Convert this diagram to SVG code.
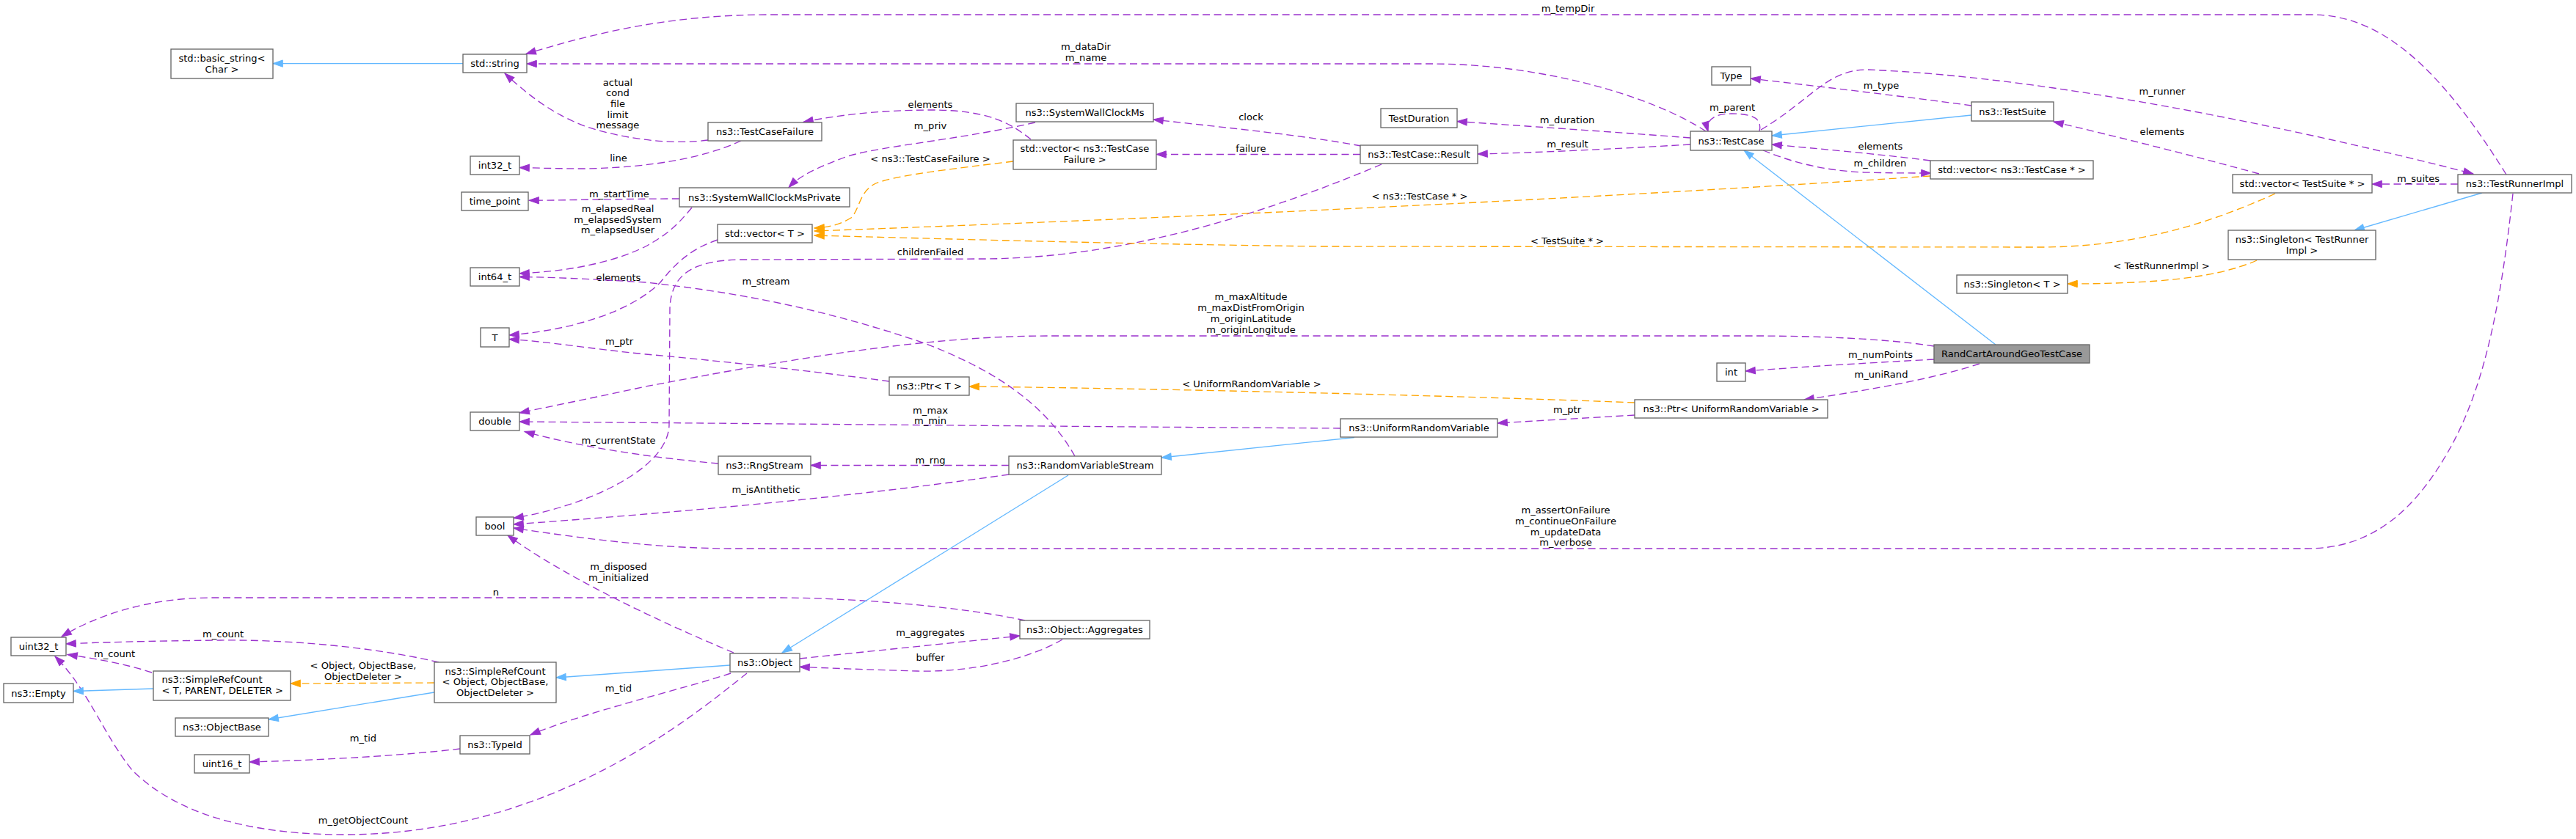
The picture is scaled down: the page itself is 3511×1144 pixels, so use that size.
<svg xmlns="http://www.w3.org/2000/svg" width="3511" height="1144" viewBox="0 0 3511 1144">
<style>
text{font-family:"DejaVu Sans","Liberation Sans",sans-serif;font-size:13.1px;fill:#000}
.nd rect{fill:#fff;stroke:#666;stroke-width:1.33}
.nd text{text-anchor:middle}
#n_randcart rect{fill:#999}
.u{fill:none;stroke:#9A32CD;stroke-width:1.33;stroke-dasharray:10,5.5;marker-end:url(#ap)}
.t{fill:none;stroke:#FFA500;stroke-width:1.33;stroke-dasharray:10,5.5;marker-end:url(#ao)}
.i{fill:none;stroke:#63B8FF;stroke-width:1.33;marker-end:url(#ab)}
.lb{text-anchor:middle}
</style>
<defs>
<marker id="ap" viewBox="0 0 14 10" refX="13.3" refY="4.65" markerWidth="14" markerHeight="10" markerUnits="userSpaceOnUse" orient="auto" overflow="visible"><path d="M0,0 L13.3,4.65 L0,9.3 Z" fill="#9A32CD" stroke="#9A32CD" stroke-width="1"/></marker>
<marker id="ao" viewBox="0 0 14 10" refX="13.3" refY="4.65" markerWidth="14" markerHeight="10" markerUnits="userSpaceOnUse" orient="auto" overflow="visible"><path d="M0,0 L13.3,4.65 L0,9.3 Z" fill="#FFA500" stroke="#FFA500" stroke-width="1"/></marker>
<marker id="ab" viewBox="0 0 14 10" refX="13.3" refY="4.65" markerWidth="14" markerHeight="10" markerUnits="userSpaceOnUse" orient="auto" overflow="visible"><path d="M0,0 L13.3,4.65 L0,9.3 Z" fill="#63B8FF" stroke="#63B8FF" stroke-width="1"/></marker>
</defs>
<rect width="3511" height="1144" fill="#fff"/>
<g id="edges">
<path class="u" d="M3416,238 C3330,100 3250,20 3151,20 L1050,20 C920,20 820,42 717,73.5"/>
<text class="lb" x="2137" y="16.2">m_tempDir</text>
<path class="u" d="M2325,179 C2250,130 2100,87 1950,87 L718,87"/>
<text class="lb" x="1480" y="68.3">m_dataDir</text><text class="lb" x="1480" y="83">m_name</text>
<path class="u" d="M965,191 C920,197 860,192 800,173 C750,155 715,125 688,100"/>
<text class="lb" x="842" y="116.5">actual</text><text class="lb" x="842" y="131.2">cond</text><text class="lb" x="842" y="145.9">file</text><text class="lb" x="842" y="160.6">limit</text><text class="lb" x="842" y="175.3">message</text>
<path class="u" d="M1010,192 C960,215 890,228 800,230 C760,230 730,229 708,228.5"/>
<text class="lb" x="843" y="219.7">line</text>
<path class="u" d="M926,271 C850,271 780,273 721,273.3"/>
<text class="lb" x="844" y="268.7">m_startTime</text>
<path class="u" d="M943,283 C925,305 910,320 878,337 C830,360 770,370 708,373"/>
<text class="lb" x="842" y="289">m_elapsedReal</text><text class="lb" x="842" y="303.7">m_elapsedSystem</text><text class="lb" x="842" y="318.4">m_elapsedUser</text>
<path class="u" d="M978,327 C940,340 920,360 900,385 C860,425 780,450 694,457"/>
<text class="lb" x="843" y="382.7">elements</text>
<path class="u" d="M1465,622 C1430,560 1370,510 1260,468 C1120,420 1000,398 880,385 C800,380 750,378 708,377.5"/>
<text class="lb" x="1044" y="388.3">m_stream</text>
<path class="u" d="M1212,520 C1100,505 960,490 880,483 C800,475 750,466 694,462.5"/>
<text class="lb" x="844" y="469.7">m_ptr</text>
<path class="u" d="M2636,472 C2560,460 2450,458 2390,458 L1430,458 C1250,458 1050,495 880,527 C820,540 770,550 708,563"/>
<text class="lb" x="1705" y="409.4">m_maxAltitude</text><text class="lb" x="1705" y="424.1">m_maxDistFromOrigin</text><text class="lb" x="1705" y="438.8">m_originLatitude</text><text class="lb" x="1705" y="453.5">m_originLongitude</text>
<path class="u" d="M1827,584 C1500,582 1100,578 708,575"/>
<text class="lb" x="1268" y="563.7">m_max</text><text class="lb" x="1268" y="578.4">m_min</text>
<path class="u" d="M979,632 C900,625 800,612 715,588.5"/>
<text class="lb" x="843" y="604.5">m_currentState</text>
<path class="u" d="M1375,647 C1200,672 1000,693 700,715"/>
<text class="lb" x="1044" y="671.7">m_isAntithetic</text>
<path class="u" d="M3425,264 C3410,400 3390,520 3340,610 C3290,700 3230,748 3145,748 L1000,748 C900,748 800,735 700,720"/>
<text class="lb" x="2134" y="700.2">m_assertOnFailure</text><text class="lb" x="2134" y="714.9">m_continueOnFailure</text><text class="lb" x="2134" y="729.6">m_updateData</text><text class="lb" x="2134" y="744.3">m_verbose</text>
<path class="u" d="M1000,890 C880,840 760,780 692,730"/>
<text class="lb" x="843" y="777.4">m_disposed</text><text class="lb" x="843" y="792.1">m_initialized</text>
<path class="u" d="M1397,846 C1300,825 1150,815 1060,815 L290,815 C200,815 130,840 84,868"/>
<text class="lb" x="676" y="811.5">n</text>
<path class="u" d="M598,903 C500,880 380,872 300,873 C200,874 130,876 90,878"/>
<text class="lb" x="304" y="869.3">m_count</text>
<path class="u" d="M207,917 C170,905 130,898 92,892.5"/>
<text class="lb" x="156" y="895.7">m_count</text>
<path class="u" d="M1018,918 C940,980 750,1138 470,1138 C300,1138 220,1090 180,1050 C140,1000 120,940 75,895"/>
<text class="lb" x="495" y="1123.3">m_getObjectCount</text>
<path class="u" d="M996,918 C930,940 800,970 723,1002"/>
<text class="lb" x="843" y="942.7">m_tid</text>
<path class="u" d="M627,1021 C550,1030 450,1036 340,1039"/>
<text class="lb" x="495" y="1010.7">m_tid</text>
<path class="u" d="M1090,898 L1390,867"/>
<text class="lb" x="1268" y="866.7">m_aggregates</text>
<path class="u" d="M1448,872 C1400,900 1320,917 1250,915 C1180,913 1130,911 1090,909.3"/>
<text class="lb" x="1268" y="900.7">buffer</text>
<path class="u" d="M1375,634.5 L1105,634.5"/>
<text class="lb" x="1268" y="631.7">m_rng</text>
<path class="u" d="M2228,566 L2041,577"/>
<text class="lb" x="2136" y="563.2">m_ptr</text>
<path class="u" d="M2698,496 C2640,515 2560,530 2459,545"/>
<text class="lb" x="2564" y="515.2">m_uniRand</text>
<path class="u" d="M2636,490 C2560,494 2460,500 2379,506"/>
<text class="lb" x="2563" y="488.2">m_numPoints</text>
<path class="u" d="M2304,188 C2200,180 2080,172 1986,165.5"/>
<text class="lb" x="2136" y="168.2">m_duration</text>
<path class="u" d="M2304,197 C2200,203 2100,208 2014,210"/>
<text class="lb" x="2136.5" y="201.1">m_result</text>
<path class="u" d="M1855,199 C1780,185 1680,175 1572,163"/>
<text class="lb" x="1705" y="163.7">clock</text>
<path class="u" d="M1854,210.5 L1576,210.5"/>
<text class="lb" x="1705" y="206.7">failure</text>
<path class="u" d="M1411,167 C1300,192 1190,200 1150,215 C1110,230 1090,240 1075,255.5"/>
<text class="lb" x="1268" y="176.3">m_priv</text>
<path class="u" d="M1405,190 C1380,170 1350,150 1270,150 C1200,150 1140,157 1095,166.5"/>
<text class="lb" x="1268" y="146.7">elements</text>
<path class="u" d="M1883,224 C1750,280 1550,352 1340,353 L1010,354 C950,355 915,370 913,420 L912,580 C910,640 800,690 700,706.5"/>
<text class="lb" x="1268" y="347.7">childrenFailed</text>
<path class="u" d="M2687,144 C2600,132 2480,118 2386,107"/>
<text class="lb" x="2564" y="120.7">m_type</text>
<path class="u" d="M2400,177 C2470,135 2490,95 2545,95 C2800,105 3150,180 3371,237"/>
<text class="lb" x="2947" y="128.7">m_runner</text>
<path class="u" d="M2398,179 C2402,162 2390,155 2360,155 C2335,155 2324,165 2328,179.3"/>
<text class="lb" x="2361" y="151.4">m_parent</text>
<path class="u" d="M2631,219 C2560,210 2480,203 2415,197"/>
<text class="lb" x="2563" y="204.4">elements</text>
<path class="u" d="M2403,205 C2440,220 2480,232 2540,235 C2580,236 2610,236 2632,236"/>
<text class="lb" x="2562.5" y="227.4">m_children</text>
<path class="u" d="M3079,237 C3000,215 2880,185 2799,166"/>
<text class="lb" x="2947" y="184.1">elements</text>
<path class="u" d="M3350,251 L3233,251"/>
<text class="lb" x="3296" y="247.7">m_suites</text>
<path class="i" d="M631,86.6 L372,86.6"/>
<path class="i" d="M2687,157 L2415,185"/>
<path class="i" d="M2720,470 L2377,205"/>
<path class="i" d="M3383,263 L3209,314"/>
<path class="i" d="M592,944 L366,981"/>
<path class="i" d="M209,939 L100,942.5"/>
<path class="i" d="M995,907 L758,924"/>
<path class="i" d="M1456,648 L1066,890"/>
<path class="i" d="M1846,596.5 L1583,624"/>
<path class="t" d="M1381,220 C1300,230 1210,240 1190,252 C1170,265 1172,285 1160,297 C1145,306 1130,310 1110,311"/>
<text class="lb" x="1268" y="220.7">&lt; ns3::TestCaseFailure &gt;</text>
<path class="t" d="M2631,240 C2300,262 1800,290 1110,315"/>
<text class="lb" x="1935" y="271.7">&lt; ns3::TestCase * &gt;</text>
<path class="t" d="M3101,264 C3000,310 2900,337 2779,337 L1800,336 C1500,332 1300,326 1110,321"/>
<text class="lb" x="2136" y="332.7">&lt; TestSuite * &gt;</text>
<path class="t" d="M2228,549 C2000,540 1600,530 1321,527"/>
<text class="lb" x="1706" y="528.1">&lt; UniformRandomVariable &gt;</text>
<path class="t" d="M3076,355 C3020,380 2930,387 2818,387"/>
<text class="lb" x="2946" y="367.2">&lt; TestRunnerImpl &gt;</text>
<path class="t" d="M592,931 L396,932"/>
<text class="lb" x="495" y="912.2">&lt; Object, ObjectBase,</text><text class="lb" x="495" y="926.9">ObjectDeleter &gt;</text>
</g>
<g id="n_basic_string" class="nd"><rect x="233" y="67" width="139" height="40"/><text x="302.5" y="84">std::basic_string&lt;</text><text x="302.5" y="98.5">Char &gt;</text></g>
<g id="n_string" class="nd"><rect x="631" y="74" width="87" height="25"/><text x="674.5" y="91.2">std::string</text></g>
<g id="n_int32" class="nd"><rect x="641" y="213" width="67" height="25"/><text x="674.5" y="230.2">int32_t</text></g>
<g id="n_time_point" class="nd"><rect x="629" y="262" width="91" height="25"/><text x="674.5" y="279.2">time_point</text></g>
<g id="n_int64" class="nd"><rect x="641" y="365" width="67" height="25"/><text x="674.5" y="382.2">int64_t</text></g>
<g id="n_T" class="nd"><rect x="655" y="447" width="39" height="26"/><text x="674.5" y="464.7">T</text></g>
<g id="n_double" class="nd"><rect x="641" y="562" width="67" height="25"/><text x="674.5" y="579.2">double</text></g>
<g id="n_bool" class="nd"><rect x="649" y="705" width="51" height="25"/><text x="674.5" y="722.2">bool</text></g>
<g id="n_uint32" class="nd"><rect x="15" y="869" width="75" height="25"/><text x="52.5" y="886.2">uint32_t</text></g>
<g id="n_empty" class="nd"><rect x="5" y="932" width="95" height="26"/><text x="52.5" y="949.7">ns3::Empty</text></g>
<g id="n_src_t" class="nd"><rect x="209" y="915" width="187" height="40"/><text x="220.5" y="931" style="text-anchor:start">ns3::SimpleRefCount</text><text x="220.5" y="945.5" style="text-anchor:start">&lt; T, PARENT, DELETER &gt;</text></g>
<g id="n_src_obj" class="nd"><rect x="592" y="903" width="166" height="55"/><text x="675" y="919.5">ns3::SimpleRefCount</text><text x="675" y="934.2">&lt; Object, ObjectBase,</text><text x="675" y="948.9">ObjectDeleter &gt;</text></g>
<g id="n_objectbase" class="nd"><rect x="239" y="979" width="127" height="25"/><text x="302.5" y="996.2">ns3::ObjectBase</text></g>
<g id="n_typeid" class="nd"><rect x="627" y="1003" width="95" height="25"/><text x="674.5" y="1020.2">ns3::TypeId</text></g>
<g id="n_uint16" class="nd"><rect x="265" y="1029" width="75" height="25"/><text x="302.5" y="1046.2">uint16_t</text></g>
<g id="n_tcf" class="nd"><rect x="965" y="167" width="155" height="25"/><text x="1042.5" y="184.2">ns3::TestCaseFailure</text></g>
<g id="n_swcmp" class="nd"><rect x="926" y="256" width="232" height="26"/><text x="1042" y="273.7">ns3::SystemWallClockMsPrivate</text></g>
<g id="n_vector_t" class="nd"><rect x="978" y="306" width="129" height="25"/><text x="1042.5" y="323.2">std::vector&lt; T &gt;</text></g>
<g id="n_ptr_t" class="nd"><rect x="1212" y="514" width="109" height="25"/><text x="1266.5" y="531.2">ns3::Ptr&lt; T &gt;</text></g>
<g id="n_rngstream" class="nd"><rect x="979" y="622" width="126" height="25"/><text x="1042" y="639.2">ns3::RngStream</text></g>
<g id="n_object" class="nd"><rect x="995" y="891" width="95" height="25"/><text x="1042.5" y="908.2">ns3::Object</text></g>
<g id="n_swcm" class="nd"><rect x="1385" y="141" width="187" height="25"/><text x="1478.5" y="158.2">ns3::SystemWallClockMs</text></g>
<g id="n_vector_tcf" class="nd"><rect x="1381" y="191" width="195" height="40"/><text x="1478.5" y="207">std::vector&lt; ns3::TestCase</text><text x="1478.5" y="221.5">Failure &gt;</text></g>
<g id="n_rvs" class="nd"><rect x="1375" y="622" width="208" height="25"/><text x="1479" y="639.2">ns3::RandomVariableStream</text></g>
<g id="n_aggregates" class="nd"><rect x="1390" y="846" width="177" height="25"/><text x="1478.5" y="863.2">ns3::Object::Aggregates</text></g>
<g id="n_testduration" class="nd"><rect x="1882" y="148" width="104" height="26"/><text x="1934" y="165.7">TestDuration</text></g>
<g id="n_result" class="nd"><rect x="1854" y="198" width="160" height="25"/><text x="1934" y="215.2">ns3::TestCase::Result</text></g>
<g id="n_urv" class="nd"><rect x="1827" y="571" width="214" height="25"/><text x="1934" y="588.2">ns3::UniformRandomVariable</text></g>
<g id="n_type" class="nd"><rect x="2333" y="91" width="53" height="25"/><text x="2359.5" y="108.2">Type</text></g>
<g id="n_testcase" class="nd"><rect x="2304" y="179" width="111" height="26"/><text x="2359.5" y="196.7">ns3::TestCase</text></g>
<g id="n_int" class="nd"><rect x="2340" y="495" width="39" height="25"/><text x="2359.5" y="512.2">int</text></g>
<g id="n_ptr_urv" class="nd"><rect x="2228" y="545" width="263" height="25"/><text x="2359.5" y="562.2">ns3::Ptr&lt; UniformRandomVariable &gt;</text></g>
<g id="n_testsuite" class="nd"><rect x="2687" y="139" width="112" height="26"/><text x="2743" y="156.7">ns3::TestSuite</text></g>
<g id="n_vector_tc" class="nd"><rect x="2631" y="219" width="222" height="25"/><text x="2742" y="236.2">std::vector&lt; ns3::TestCase * &gt;</text></g>
<g id="n_randcart" class="nd"><rect x="2636" y="470" width="212" height="25"/><text x="2742" y="487.2">RandCartAroundGeoTestCase</text></g>
<g id="n_singleton_t" class="nd"><rect x="2667" y="375" width="151" height="25"/><text x="2742.5" y="392.2">ns3::Singleton&lt; T &gt;</text></g>
<g id="n_vector_ts" class="nd"><rect x="3043" y="238" width="190" height="25"/><text x="3138" y="255.2">std::vector&lt; TestSuite * &gt;</text></g>
<g id="n_runner" class="nd"><rect x="3350" y="238" width="155" height="25"/><text x="3427.5" y="255.2">ns3::TestRunnerImpl</text></g>
<g id="n_singleton_tri" class="nd"><rect x="3037" y="314" width="201" height="40"/><text x="3137.5" y="331">ns3::Singleton&lt; TestRunner</text><text x="3137.5" y="345.5">Impl &gt;</text></g>
</svg>
